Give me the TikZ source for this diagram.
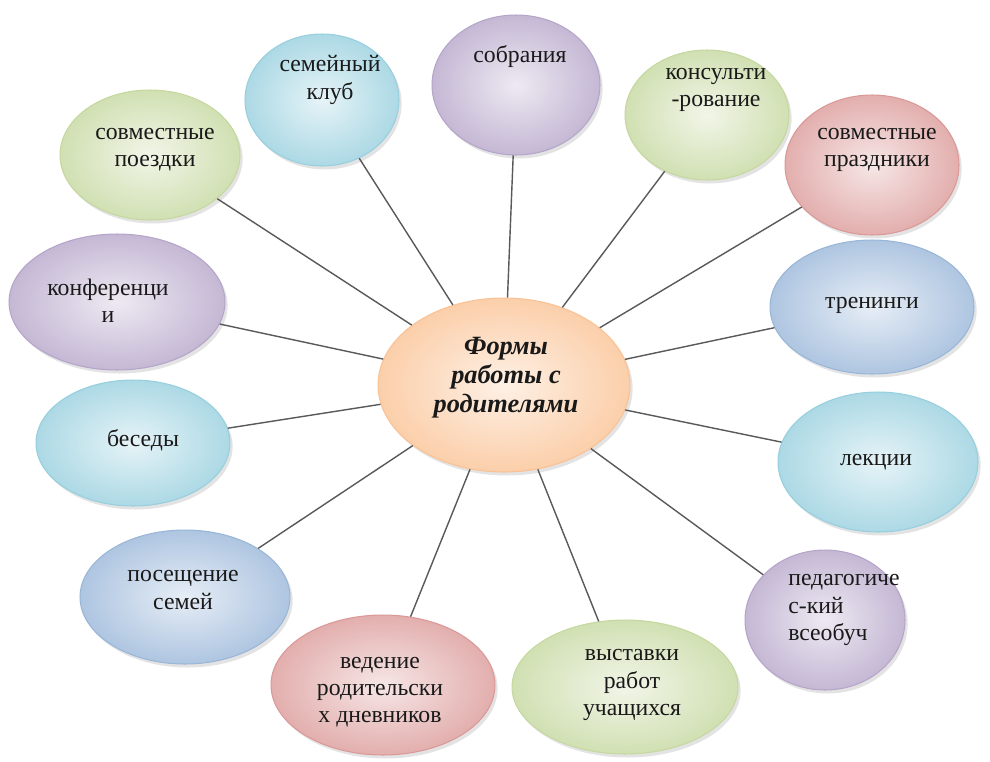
\documentclass[tikz,border=0pt]{standalone}
\usepackage{fontspec}
\setmainfont{Liberation Serif}
\usepackage{xcolor}
\usepackage{tikz}
\usetikzlibrary{shapes.geometric, shadows, positioning}

\definecolor{aqua}{HTML}{4BACC6}
\definecolor{lilac}{HTML}{8064A2}
\definecolor{olive}{HTML}{9BBB59}
\definecolor{rose}{HTML}{C0504D}
\definecolor{steel}{HTML}{4F81BD}
\definecolor{peach}{HTML}{F79646}

\begin{document}
\begin{tikzpicture}[
        x=0.02cm, y=-0.02cm,
        bub/.style={ellipse, shade, inner color=#1!14!white, outer color=#1!46!white,
            draw=#1!58!white, line width=0.6pt,
            drop shadow={opacity=0.22, shadow xshift=1.5pt, shadow yshift=-2pt}},
        txt/.style={align=center, text=black!90, font=\fontsize{13.5}{15.5}\selectfont},
        link/.style={draw=black!65, line width=0.8pt}
    ]
        \useasboundingbox (0,0) rectangle (990,761);

        % centre
        \node[bub=peach, minimum width=5.04cm, minimum height=3.48cm] (forms) at (504,385) {};

        % bubbles, top row
        \node[bub=aqua, minimum width=3.08cm, minimum height=2.64cm] (club) at (322,100) {};
        \node[bub=lilac, minimum width=3.36cm, minimum height=2.8cm] (meet) at (516,85) {};
        \node[bub=olive, minimum width=3.28cm, minimum height=2.6cm] (consult) at (707,115) {};
        \node[bub=rose, minimum width=3.48cm, minimum height=2.8cm] (holiday) at (872,165) {};
        \node[bub=olive, minimum width=3.6cm, minimum height=2.6cm] (trips) at (150,155) {};

        % bubbles, sides
        \node[bub=lilac, minimum width=4.32cm, minimum height=2.72cm] (conf) at (117,302) {};
        \node[bub=steel, minimum width=4.08cm, minimum height=2.68cm] (train) at (872,307) {};
        \node[bub=aqua, minimum width=3.88cm, minimum height=2.52cm] (talks) at (133,443) {};
        \node[bub=aqua, minimum width=4cm, minimum height=2.8cm] (lect) at (878,462) {};

        % bubbles, bottom row
        \node[bub=steel, minimum width=4.2cm, minimum height=2.68cm] (visit) at (185,597) {};
        \node[bub=lilac, minimum width=3.2cm, minimum height=2.8cm] (pedag) at (825,620) {};
        \node[bub=rose, minimum width=4.48cm, minimum height=2.8cm] (diary) at (383,685) {};
        \node[bub=olive, minimum width=4.52cm, minimum height=2.68cm] (expo) at (625,687) {};

        % connectors
        \foreach \b in {club, meet, consult, holiday, trips, conf, train,
                talks, lect, visit, pedag, diary, expo}
            \draw[link] (forms) -- (\b);

        % texts
        \node[txt, font=\fontsize{15}{16.5}\selectfont\bfseries\itshape] (forms-t) at (506,378) {Формы\\работы с\\родителями};
        \node[txt] (club-t) at (330,80) {семейный\\клуб};
        \node[txt] (meet-t) at (520,57) {собрания};
        \node[txt] (consult-t) at (716,90) {консульти\\-рование};
        \node[txt] (holiday-t) at (877,150) {совместные\\праздники};
        \node[txt] (trips-t) at (155,150) {совместные\\поездки};
        \node[txt] (conf-t) at (108,301) {конференци\\и};
        \node[txt] (train-t) at (872,305) {тренинги};
        \node[txt] (talks-t) at (143,440) {беседы};
        \node[txt] (lect-t) at (876,462) {лекции};
        \node[txt] (visit-t) at (183,590) {посещение\\семей};
        \node[txt, align=left] (pedag-t) at (844,610) {педагогиче\\с-кий\\всеобуч};
        \node[txt] (diary-t) at (380,692) {ведение\\родительски\\х дневников};
        \node[txt] (expo-t) at (632,685) {выставки\\работ\\учащихся};

    \end{tikzpicture}
\end{document}
